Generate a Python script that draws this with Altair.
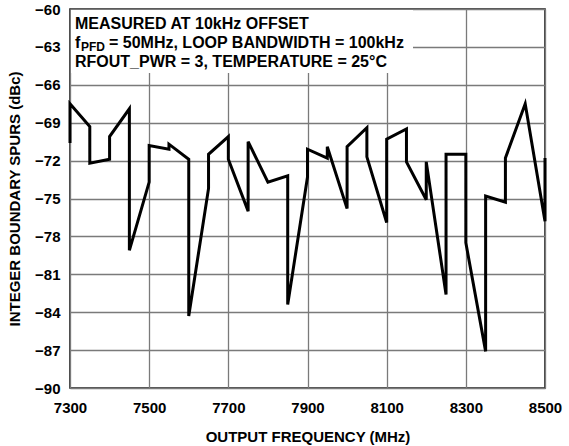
import altair as alt
import pandas as pd

# Data (two values at one frequency = vertical step)
freq = [7300, 7300, 7350, 7350, 7400, 7400, 7450, 7450, 7500, 7500,
        7550, 7550, 7600, 7600, 7650, 7650, 7700, 7700, 7750, 7750,
        7800, 7850, 7850, 7900, 7900, 7950, 7950, 8000, 8000, 8050,
        8050, 8100, 8100, 8150, 8150, 8200, 8200, 8250, 8250, 8300,
        8300, 8350, 8350, 8400, 8400, 8450, 8500, 8500]
spur = [-70.6, -67.5, -69.3, -72.2, -71.9, -70.1, -67.9, -79.1, -73.7, -70.8,
        -71.1, -70.7, -71.9, -84.3, -74.2, -71.5, -70.1, -71.9, -76.0, -70.5,
        -73.7, -73.2, -83.4, -73.3, -71.1, -71.8, -70.9, -75.8, -70.9, -69.4,
        -71.7, -76.9, -70.3, -69.5, -72.1, -75.1, -72.1, -82.6, -71.5, -71.5,
        -78.5, -87.1, -74.8, -75.3, -71.8, -67.5, -76.8, -71.8]

x_ticks = [7300, 7500, 7700, 7900, 8100, 8300, 8500]
y_ticks = [-90, -87, -84, -81, -78, -75, -72, -69, -66, -63, -60]

note1 = "MEASURED AT 10kHz OFFSET"
note2_f = "f"
note2_sub = "PFD"
note2_rest = "= 50MHz, LOOP BANDWIDTH = 100kHz"
note3 = "RFOUT_PWR = 3, TEMPERATURE = 25°C"

df = pd.DataFrame({"freq": freq, "spur": spur, "idx": list(range(len(freq)))})

FONT = "Liberation Sans"

xs = alt.Scale(domain=[7300, 8500], nice=False, zero=False)
ys = alt.Scale(domain=[-90, -60], nice=False, zero=False)

line = alt.Chart(df).mark_line(color="black", strokeWidth=3, strokeJoin="miter").encode(
    x=alt.X("freq:Q", scale=xs,
            axis=alt.Axis(values=x_ticks, title="OUTPUT FREQUENCY (MHz)", format="d",
                          grid=True, gridColor="#7a7a7a", gridWidth=1.3,
                          ticks=False, domain=False, labelPadding=12,
                          labelFont=FONT, labelFontSize=15, labelFontWeight="bold",
                          labelColor="black", titleFont=FONT, titleFontSize=15,
                          titleFontWeight="bold", titleColor="black", titlePadding=14,
                          labelFlush=False)),
    y=alt.Y("spur:Q", scale=ys,
            axis=alt.Axis(values=y_ticks, title="INTEGER BOUNDARY SPURS (dBc)", format="d",
                          grid=True, gridColor="#7a7a7a", gridWidth=1.3,
                          ticks=False, domain=False, labelPadding=10,
                          labelFont=FONT, labelFontSize=15, labelFontWeight="bold",
                          labelColor="black", titleFont=FONT, titleFontSize=15,
                          titleFontWeight="bold", titleColor="black", titlePadding=12,
                          labelFlush=False)),
    order="idx:O",
)

box = alt.Chart(pd.DataFrame({"a": [0]})).mark_rect(color="white").encode(
    x=alt.value(1), x2=alt.value(343), y=alt.value(1), y2=alt.value(64))

def txt(s, x, y, size=16):
    return alt.Chart(pd.DataFrame({"t": [s]})).mark_text(
        align="left", baseline="alphabetic", font=FONT, fontWeight="bold",
        fontSize=size, color="black").encode(text="t:N", x=alt.value(x), y=alt.value(y))

chart = alt.layer(
    line, box,
    txt(note1, 5, 19.5),
    txt(note2_f, 5, 38.5),
    txt(note2_sub, 11, 42, size=12),
    txt(note2_rest, 39, 38.5),
    txt(note3, 5, 57.5),
).properties(
    width=475, height=379,
    autosize=alt.AutoSizeParams(type="none"),
    padding={"left": 70, "top": 9, "right": 24, "bottom": 58},
).configure_view(stroke="#1a1a1a", strokeWidth=1.6)

chart.save("out.html", embed_options={"renderer": "svg", "actions": False})
